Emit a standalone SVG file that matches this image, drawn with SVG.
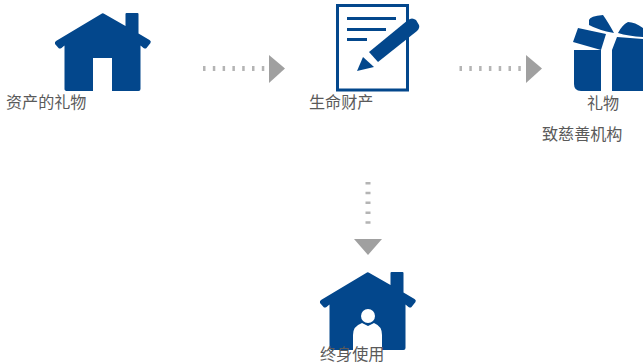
<svg xmlns="http://www.w3.org/2000/svg" width="643" height="363" viewBox="0 0 643 363">
<style>
.i{fill:#03478c}
.w{fill:#fff}
.t{font-family:"Liberation Sans","Noto Sans CJK SC",sans-serif;font-size:16.100px;fill:#5a5a5a}
.d{stroke:#b4b4b4;stroke-width:5;fill:none}
.a{fill:#a0a0a0}
</style>
<defs>
<path id="house" d="M47.500 0.500Q48.500 0 50 1L71 13V1Q71 0 72 0H83Q84 0 84 1V20.500L95 27Q97 28 96 30L92 35Q91 36 89 35L86 32.500V76Q86 78 84 78H13Q10 78 10 76V32.500L7 35Q5 36 4 35L0.500 31Q0 29 1.500 28Z"/>
</defs>
<g id="connectors">
<path class="d" d="M203 68.500H266" stroke-dasharray="2.500 7.300"/>
<path class="a" d="M269 55L285 68.500L269 83Z"/>
<path class="d" d="M459.500 68.500H522" stroke-dasharray="2.500 7.300"/>
<path class="a" d="M526 55L542 68.500L526 83Z"/>
<path class="d" d="M368 182V224" stroke-dasharray="2.500 7.300"/>
<path class="a" d="M354 239H382L368 255Z"/>
</g>
<g id="node-gift-asset">
<use href="#house" x="54.500" y="13" class="i"/>
<rect class="w" x="93" y="58" width="19" height="34"/>
<text class="t" x="6" y="108">资产的礼物</text>
</g>
<g id="node-life-estate">
<rect x="337.500" y="5.500" width="70" height="84.500" fill="#fff" stroke="#03478c" stroke-width="3"/>
<path class="i" d="M347 17H396V20H347ZM347 28H386V31H347ZM347 38H367V41H347Z"/>
<path class="i" d="M369 52L408 20Q412 17 416 20L419 25Q420 28 417 31L378 62Z"/>
<path class="i" d="M363 57L374 67L357 71Z"/>
<text class="t" x="309" y="108">生命财产</text>
</g>
<g id="node-gift">
<path class="i" d="M574 50H601V91H581Q574 91 574 84ZM612 50H643V91H612Z"/>
<path class="i" d="M578 28L606 34L601 50L573 42ZM617 37L643 39V50H612Z"/>
<path class="i" d="M589 20Q590 16 603 15Q608 22 614 33Q598 30 589 25ZM618 33Q622 25 628 22Q635 22 643 28V37Q628 36 618 33Z"/>
<text class="t" x="587" y="109">礼物</text>
<text class="t" x="542" y="140">致慈善机构</text>
</g>
<g id="node-lifetime-use">
<use href="#house" x="319.500" y="272" class="i"/>
<circle class="w" cx="368" cy="316" r="7"/>
<path class="w" d="M353 350V335Q353 326 362 323L368 326L374 323Q382 326 382 335V350Z"/>
<text class="t" x="320" y="360">终身使用</text>
</g>
</svg>
